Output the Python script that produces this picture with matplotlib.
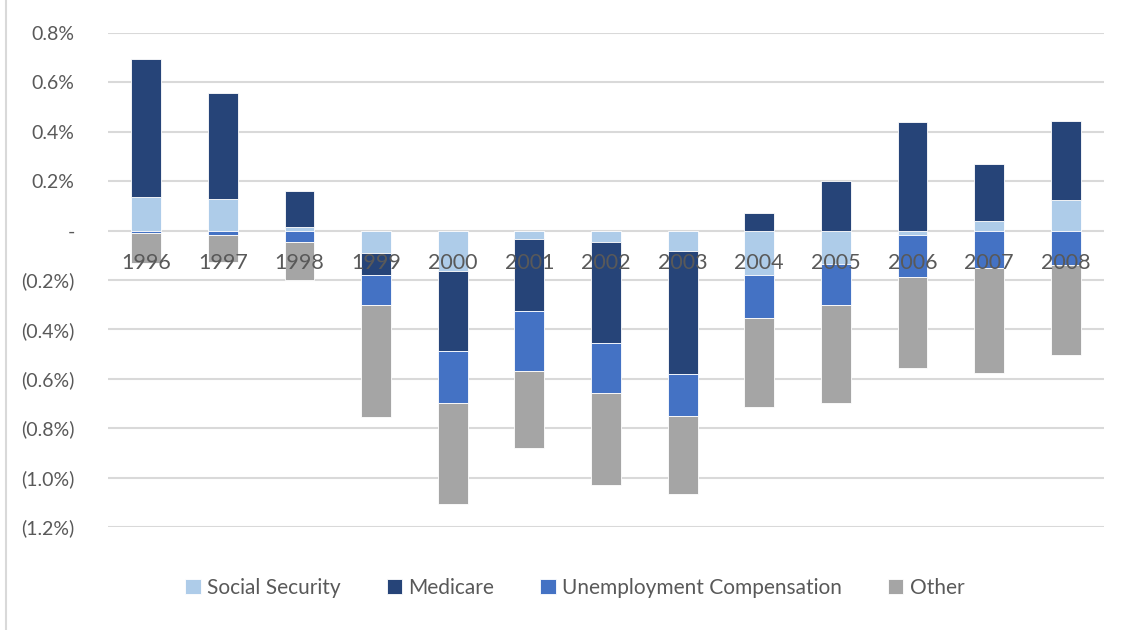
import numpy as np
import matplotlib
matplotlib.use("Agg")
import matplotlib.pyplot as plt
from matplotlib.lines import Line2D
from matplotlib.ticker import FuncFormatter

plt.rcParams['font.family'] = ['Lato', 'DejaVu Sans']

years = ['1996', '1997', '1998', '1999', '2000', '2001', '2002',
         '2003', '2004', '2005', '2006', '2007', '2008']
# percent values
social_security = [0.137, 0.127, 0.013, -0.092, -0.162, -0.035, -0.045,
                   -0.084, -0.181, -0.135, -0.019, 0.038, 0.122]
medicare = [0.557, 0.432, 0.146, -0.086, -0.325, -0.290, -0.411,
            -0.497, 0.073, 0.199, 0.439, 0.233, 0.320]
unemployment = [-0.011, -0.019, -0.047, -0.123, -0.212, -0.242, -0.202,
                -0.170, -0.172, -0.166, -0.168, -0.153, -0.139]
other = [-0.120, -0.110, -0.153, -0.453, -0.406, -0.314, -0.370,
         -0.316, -0.361, -0.398, -0.370, -0.424, -0.365]

series = [('Social Security', social_security, '#AECCE9'),
          ('Medicare', medicare, '#264478'),
          ('Unemployment Compensation', unemployment, '#4472C4'),
          ('Other', other, '#A5A5A5')]

fig = plt.figure(figsize=(11.27, 6.3), dpi=100)
ax = fig.add_axes([0.0958, 0.1635, 0.8838, 0.7841])

x = np.arange(len(years))
pos_base = np.zeros(len(years))
neg_base = np.zeros(len(years))
handles = []
for name, vals, col in series:
    v = np.array(vals)
    base = np.where(v >= 0, pos_base, neg_base)
    b = ax.bar(x, v, 0.39, bottom=base, color=col, edgecolor='white',
               linewidth=0.6, label=name, zorder=1)
    handles.append(b)
    pos_base = pos_base + np.where(v >= 0, v, 0)
    neg_base = neg_base + np.where(v < 0, v, 0)

def fmt(val, pos):
    if abs(val) < 1e-9:
        return '-'
    if val < 0:
        return '({:.1f}%)'.format(-val)
    return '{:.1f}%'.format(val)

ax.set_ylim(-1.2, 0.8)
ax.set_yticks(np.arange(-1.2, 0.81, 0.2))
ax.yaxis.set_major_formatter(FuncFormatter(fmt))
ax.set_xlim(-0.5, len(years) - 0.5)
ax.set_xticks(x)
ax.set_xticklabels(years)

ax.yaxis.grid(True, color='#D9D9D9', linewidth=1.5)
ax.yaxis.set_zorder(0.5)
for s in ax.spines.values():
    s.set_color('none')
ax.spines['bottom'].set_position(('data', 0))
ax.tick_params(axis='y', length=0, pad=24, labelsize=14, labelcolor='#595959')
ax.tick_params(axis='x', length=0, pad=16, labelsize=15.5, labelcolor='#595959')

fig.legend(handles=handles, loc='center', bbox_to_anchor=(0.51, 0.067),
           ncol=4, frameon=False, fontsize=15, labelcolor='#595959',
           handlelength=0.75, handleheight=0.75, handletextpad=0.3,
           columnspacing=2.2)

fig.add_artist(Line2D([0.005, 0.005], [0, 1], transform=fig.transFigure,
                      color='#D9D9D9', linewidth=1.5))

fig.savefig('out.png', dpi=100)
